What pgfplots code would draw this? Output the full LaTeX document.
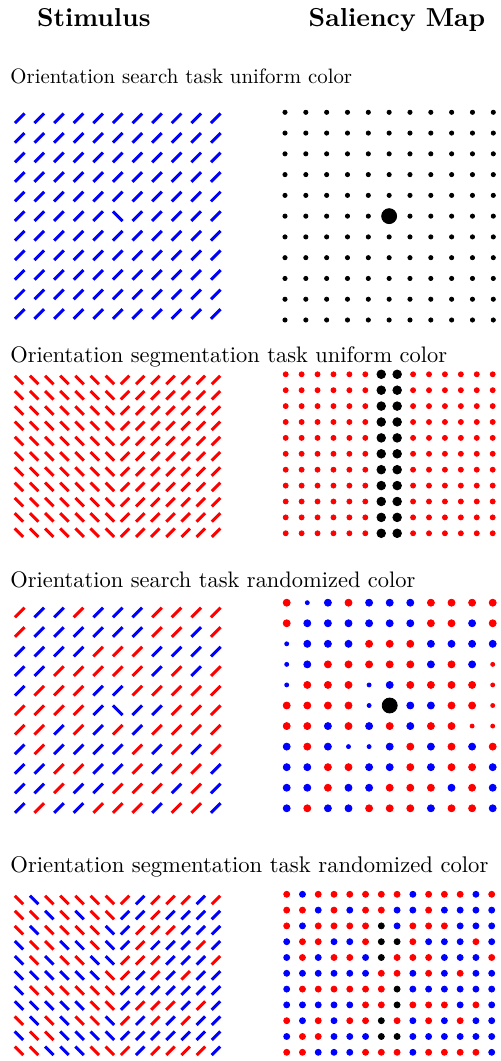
\documentclass[border=0pt]{standalone}
\usepackage{pgfplots}
\pgfplotsset{compat=1.18}
\usepackage{graphicx}
\definecolor{pr}{RGB}{255,0,0}
\definecolor{pb}{RGB}{0,0,255}
\pgfplotsset{
 panel/.style={scale only axis, hide axis, clip=false, enlargelimits=false, y dir=reverse, anchor=north west},
 sl/.style={only marks, mark=|, mark size=#1, mark options={line width=1.5pt, rotate=-45}},
 bs/.style={only marks, mark=|, mark size=#1, mark options={line width=1.5pt, rotate=45}},
 dot/.style={only marks, mark=*, mark size=#1, mark options={draw=none}},
}
\begin{document}
\begin{tikzpicture}[x=1pt,y=1pt]
\path[use as bounding box] (0pt,0pt) rectangle (250pt,530.5pt);
\node[anchor=base west, inner sep=0] at (18.35pt,517.15pt) {\resizebox{56.7pt}{!}{\bfseries Stimulus}};
\node[anchor=base west, inner sep=0] at (154.15pt,517.15pt) {\resizebox{88.3pt}{!}{\bfseries Saliency Map}};
\node[anchor=base west, inner sep=0] at (5pt,488.85pt) {\resizebox{170.85pt}{!}{Orientation search task uniform color}};
\node[anchor=base west, inner sep=0] at (5pt,349.35pt) {\resizebox{218.35pt}{!}{Orientation segmentation task uniform color}};
\node[anchor=base west, inner sep=0] at (5pt,236.65pt) {\resizebox{202.5pt}{!}{Orientation search task randomized color}};
\node[anchor=base west, inner sep=0] at (5pt,94.35pt) {\resizebox{239pt}{!}{Orientation segmentation task randomized color}};

% ---------- Panel 1: stimulus ----------
\begin{axis}[panel, at={(9.85pt,471.35pt)}, width=98.05pt, height=97.85pt, xmin=0, xmax=10, ymin=0, ymax=10]
\addplot[sl=3.4pt, pb] coordinates {
(0,0)(1,0)(2,0)(3,0)(4,0)(5,0)(6,0)(7,0)(8,0)(9,0)(10,0)
(0,1)(1,1)(2,1)(3,1)(4,1)(5,1)(6,1)(7,1)(8,1)(9,1)(10,1)
(0,2)(1,2)(2,2)(3,2)(4,2)(5,2)(6,2)(7,2)(8,2)(9,2)(10,2)
(0,3)(1,3)(2,3)(3,3)(4,3)(5,3)(6,3)(7,3)(8,3)(9,3)(10,3)
(0,4)(1,4)(2,4)(3,4)(4,4)(5,4)(6,4)(7,4)(8,4)(9,4)(10,4)
(0,5)(1,5)(2,5)(3,5)(4,5)(6,5)(7,5)(8,5)(9,5)(10,5)
(0,6)(1,6)(2,6)(3,6)(4,6)(5,6)(6,6)(7,6)(8,6)(9,6)(10,6)
(0,7)(1,7)(2,7)(3,7)(4,7)(5,7)(6,7)(7,7)(8,7)(9,7)(10,7)
(0,8)(1,8)(2,8)(3,8)(4,8)(5,8)(6,8)(7,8)(8,8)(9,8)(10,8)
(0,9)(1,9)(2,9)(3,9)(4,9)(5,9)(6,9)(7,9)(8,9)(9,9)(10,9)
(0,10)(1,10)(2,10)(3,10)(4,10)(5,10)(6,10)(7,10)(8,10)(9,10)(10,10)
};
\addplot[bs=3.4pt, pb] coordinates {(5,5)};
\end{axis}

% ---------- Panel 1: saliency ----------
\begin{axis}[panel, at={(142.5pt,474.35pt)}, width=104.15pt, height=103.85pt, xmin=0, xmax=10, ymin=0, ymax=10]
\addplot[dot=1.05pt, black] coordinates {
(0,0)(1,0)(2,0)(3,0)(4,0)(5,0)(6,0)(7,0)(8,0)(9,0)(10,0)
(0,1)(1,1)(2,1)(3,1)(4,1)(5,1)(6,1)(7,1)(8,1)(9,1)(10,1)
(0,2)(1,2)(2,2)(3,2)(4,2)(5,2)(6,2)(7,2)(8,2)(9,2)(10,2)
(0,3)(1,3)(2,3)(3,3)(4,3)(5,3)(6,3)(7,3)(8,3)(9,3)(10,3)
(0,4)(1,4)(2,4)(3,4)(4,4)(5,4)(6,4)(7,4)(8,4)(9,4)(10,4)
(0,5)(1,5)(2,5)(3,5)(4,5)(6,5)(7,5)(8,5)(9,5)(10,5)
(0,6)(1,6)(2,6)(3,6)(4,6)(5,6)(6,6)(7,6)(8,6)(9,6)(10,6)
(0,7)(1,7)(2,7)(3,7)(4,7)(5,7)(6,7)(7,7)(8,7)(9,7)(10,7)
(0,8)(1,8)(2,8)(3,8)(4,8)(5,8)(6,8)(7,8)(8,8)(9,8)(10,8)
(0,9)(1,9)(2,9)(3,9)(4,9)(5,9)(6,9)(7,9)(8,9)(9,9)(10,9)
(0,10)(1,10)(2,10)(3,10)(4,10)(5,10)(6,10)(7,10)(8,10)(9,10)(10,10)
};
\addplot[dot=3.75pt, black] coordinates {(5,5)};
\end{axis}

% ---------- Panel 2: stimulus ----------
\begin{axis}[panel, at={(9.5pt,340.5pt)}, width=98.5pt, height=76.35pt, xmin=0, xmax=13, ymin=0, ymax=10]
\addplot[bs=3pt, pr] coordinates {
(0,0)(1,0)(2,0)(3,0)(4,0)(5,0)(6,0)
(0,1)(1,1)(2,1)(3,1)(4,1)(5,1)(6,1)
(0,2)(1,2)(2,2)(3,2)(4,2)(5,2)(6,2)
(0,3)(1,3)(2,3)(3,3)(4,3)(5,3)(6,3)
(0,4)(1,4)(2,4)(3,4)(4,4)(5,4)(6,4)
(0,5)(1,5)(2,5)(3,5)(4,5)(5,5)(6,5)
(0,6)(1,6)(2,6)(3,6)(4,6)(5,6)(6,6)
(0,7)(1,7)(2,7)(3,7)(4,7)(5,7)(6,7)
(0,8)(1,8)(2,8)(3,8)(4,8)(5,8)(6,8)
(0,9)(1,9)(2,9)(3,9)(4,9)(5,9)(6,9)
(0,10)(1,10)(2,10)(3,10)(4,10)(5,10)(6,10)
};
\addplot[sl=3pt, pr] coordinates {
(7,0)(8,0)(9,0)(10,0)(11,0)(12,0)(13,0)
(7,1)(8,1)(9,1)(10,1)(11,1)(12,1)(13,1)
(7,2)(8,2)(9,2)(10,2)(11,2)(12,2)(13,2)
(7,3)(8,3)(9,3)(10,3)(11,3)(12,3)(13,3)
(7,4)(8,4)(9,4)(10,4)(11,4)(12,4)(13,4)
(7,5)(8,5)(9,5)(10,5)(11,5)(12,5)(13,5)
(7,6)(8,6)(9,6)(10,6)(11,6)(12,6)(13,6)
(7,7)(8,7)(9,7)(10,7)(11,7)(12,7)(13,7)
(7,8)(8,8)(9,8)(10,8)(11,8)(12,8)(13,8)
(7,9)(8,9)(9,9)(10,9)(11,9)(12,9)(13,9)
(7,10)(8,10)(9,10)(10,10)(11,10)(12,10)(13,10)
};
\end{axis}

% ---------- Panel 2: saliency ----------
\begin{axis}[panel, at={(142.85pt,343.35pt)}, width=103.5pt, height=79.5pt, xmin=0, xmax=13, ymin=0, ymax=10]
\addplot[dot=1.25pt, pr] coordinates {
(0,0)(1,0)(2,0)(3,0)(4,0)(5,0)(8,0)(9,0)(10,0)(11,0)(12,0)(13,0)
(0,1)(1,1)(2,1)(3,1)(4,1)(5,1)(8,1)(9,1)(10,1)(11,1)(12,1)(13,1)
(0,2)(1,2)(2,2)(3,2)(4,2)(5,2)(8,2)(9,2)(10,2)(11,2)(12,2)(13,2)
(0,3)(1,3)(2,3)(3,3)(4,3)(5,3)(8,3)(9,3)(10,3)(11,3)(12,3)(13,3)
(0,4)(1,4)(2,4)(3,4)(4,4)(5,4)(8,4)(9,4)(10,4)(11,4)(12,4)(13,4)
(0,5)(1,5)(2,5)(3,5)(4,5)(5,5)(8,5)(9,5)(10,5)(11,5)(12,5)(13,5)
(0,6)(1,6)(2,6)(3,6)(4,6)(5,6)(8,6)(9,6)(10,6)(11,6)(12,6)(13,6)
(0,7)(1,7)(2,7)(3,7)(4,7)(5,7)(8,7)(9,7)(10,7)(11,7)(12,7)(13,7)
(0,8)(1,8)(2,8)(3,8)(4,8)(5,8)(8,8)(9,8)(10,8)(11,8)(12,8)(13,8)
(0,9)(1,9)(2,9)(3,9)(4,9)(5,9)(8,9)(9,9)(10,9)(11,9)(12,9)(13,9)
(0,10)(1,10)(2,10)(3,10)(4,10)(5,10)(8,10)(9,10)(10,10)(11,10)(12,10)(13,10)
};
\addplot[dot=2.15pt, black] coordinates {
(6,0)(7,0)(6,1)(7,1)(6,2)(7,2)(6,3)(7,3)(6,4)(7,4)(6,5)(7,5)
(6,6)(7,6)(6,7)(7,7)(6,8)(7,8)(6,9)(7,9)(6,10)(7,10)
};
\end{axis}

% ---------- Panel 3: stimulus ----------
\begin{axis}[panel, at={(9.85pt,224.25pt)}, width=98.05pt, height=97.75pt, xmin=0, xmax=10, ymin=0, ymax=10]
\addplot[sl=3.4pt, pb] coordinates {
(1,0)(2,0)(4,0)(5,0)(6,0)
(1,1)(2,1)(3,1)(4,1)(5,1)(6,1)(9,1)
(0,2)(1,2)(2,2)(3,2)(7,2)(8,2)(9,2)(10,2)
(0,3)(1,3)(7,3)(9,3)
(0,4)(4,4)(5,4)
(4,5)(6,5)(7,5)
(2,6)(4,6)(6,6)
(0,7)(2,7)(3,7)(4,7)(5,7)(7,7)(9,7)
(0,8)(1,8)(4,8)(5,8)(7,8)(10,8)
(0,9)(1,9)(3,9)(4,9)(8,9)(10,9)
(0,10)(2,10)(3,10)(7,10)(10,10)
};
\addplot[sl=3.4pt, pr] coordinates {
(0,0)(3,0)(7,0)(8,0)(9,0)(10,0)
(0,1)(7,1)(8,1)(10,1)
(4,2)(5,2)(6,2)
(2,3)(3,3)(4,3)(5,3)(6,3)(8,3)(10,3)
(1,4)(2,4)(3,4)(6,4)(7,4)(8,4)(9,4)(10,4)
(0,5)(1,5)(2,5)(3,5)(8,5)(9,5)(10,5)
(0,6)(1,6)(3,6)(5,6)(7,6)(8,6)(9,6)(10,6)
(1,7)(6,7)(8,7)(10,7)
(2,8)(3,8)(6,8)(8,8)(9,8)
(2,9)(5,9)(6,9)(7,9)(9,9)
(1,10)(4,10)(5,10)(6,10)(8,10)(9,10)
};
\addplot[bs=3.4pt, pb] coordinates {(5,5)};
\end{axis}

% ---------- Panel 3: saliency ----------
\begin{axis}[panel, at={(143.35pt,229.15pt)}, width=103pt, height=102.8pt, xmin=0, xmax=10, ymin=0, ymax=10]
\addplot[dot=1.75pt, pb] coordinates {
(2,0)(4,0)(5,0)(6,0)
(1,1)(2,1)(3,1)(4,1)(5,1)(6,1)(9,1)
(1,2)(2,2)(3,2)(7,2)(8,2)(9,2)(10,2)
(1,3)(7,3)(9,3)
(5,4)
(6,5)(7,5)
(2,6)(4,6)(6,6)
(0,7)(2,7)(5,7)(7,7)(9,7)
(0,8)(1,8)(4,8)(5,8)(7,8)(10,8)
(0,9)(1,9)(3,9)(4,9)(8,9)(10,9)
(0,10)(2,10)(3,10)(7,10)(10,10)
};
\addplot[dot=1.75pt, pr] coordinates {
(0,0)(3,0)(7,0)(8,0)(9,0)(10,0)
(0,1)(7,1)(8,1)(10,1)
(4,2)(5,2)(6,2)
(2,3)(3,3)(4,3)(5,3)(6,3)(8,3)
(1,4)(2,4)(3,4)(6,4)(7,4)(8,4)(9,4)
(0,5)(1,5)(2,5)(3,5)(8,5)(9,5)
(0,6)(1,6)(3,6)(5,6)(7,6)(8,6)
(1,7)(6,7)(8,7)(10,7)
(2,8)(3,8)(6,8)(8,8)(9,8)
(2,9)(5,9)(6,9)(7,9)(9,9)
(1,10)(4,10)(5,10)(6,10)(8,10)(9,10)
};
\addplot[dot=1pt, pb] coordinates {(1,0)(0,2)(0,3)(0,4)(4,4)(4,5)(3,7)(4,7)};
\addplot[dot=1pt, pr] coordinates {(10,3)(10,4)(10,5)(9,6)(10,6)};
\addplot[dot=3.75pt, black] coordinates {(5,5)};
\end{axis}

% ---------- Panel 4: stimulus ----------
\begin{axis}[panel, at={(9.5pt,80.5pt)}, width=98.5pt, height=75.4pt, xmin=0, xmax=13, ymin=0, ymax=10]
\addplot[bs=3pt, pb] coordinates {
(1,0)
(2,1)(4,1)
(1,2)(6,2)
(0,3)(3,3)(4,3)(6,3)
(0,4)(2,4)(5,4)(6,4)
(0,5)(1,5)(2,5)(3,5)(4,5)(5,5)
(0,6)
(0,7)(1,7)(2,7)(3,7)(4,7)
(1,8)(3,8)(6,8)
(0,9)(3,9)(4,9)(5,9)(6,9)
(2,10)(3,10)(4,10)
};
\addplot[bs=3pt, pr] coordinates {
(0,0)(2,0)(3,0)(4,0)(5,0)(6,0)
(0,1)(1,1)(3,1)(5,1)(6,1)
(0,2)(2,2)(3,2)(4,2)(5,2)
(1,3)(2,3)(5,3)
(1,4)(3,4)(4,4)
(6,5)
(1,6)(2,6)(3,6)(4,6)(5,6)(6,6)
(5,7)(6,7)
(0,8)(2,8)(4,8)(5,8)
(1,9)(2,9)
(0,10)(1,10)(5,10)(6,10)
};
\addplot[sl=3pt, pb] coordinates {
(8,0)(12,0)
(7,1)(8,1)(10,1)(11,1)(12,1)(13,1)
(7,2)(11,2)(12,2)(13,2)
(7,3)(9,3)(10,3)(11,3)(13,3)
(10,4)(11,4)(12,4)
(8,5)(10,5)(12,5)(13,5)
(7,6)(8,6)(9,6)(10,6)(11,6)(12,6)(13,6)
(7,7)(11,7)(13,7)
(8,8)(10,8)(12,8)(13,8)
(7,9)(8,9)(9,9)(10,9)(11,9)(12,9)(13,9)
(8,10)(13,10)
};
\addplot[sl=3pt, pr] coordinates {
(7,0)(9,0)(10,0)(11,0)(13,0)
(9,1)
(8,2)(9,2)(10,2)
(8,3)(12,3)
(7,4)(8,4)(9,4)(13,4)
(7,5)(9,5)(11,5)
(8,7)(9,7)(10,7)(12,7)
(7,8)(9,8)(11,8)
(7,10)(9,10)(10,10)(11,10)(12,10)
};
\end{axis}

% ---------- Panel 4: saliency ----------
\begin{axis}[panel, at={(143.35pt,83.35pt)}, width=102.5pt, height=79pt, xmin=0, xmax=13, ymin=0, ymax=10]
\addplot[dot=1.5pt, pb] coordinates {
(1,0)(8,0)(12,0)
(2,1)(4,1)(7,1)(8,1)(10,1)(11,1)(12,1)(13,1)
(1,2)(7,2)(11,2)(12,2)(13,2)
(0,3)(3,3)(4,3)(9,3)(10,3)(11,3)(13,3)
(0,4)(2,4)(5,4)(10,4)(11,4)(12,4)
(0,5)(1,5)(2,5)(3,5)(4,5)(5,5)(8,5)(10,5)(12,5)(13,5)
(0,6)(8,6)(9,6)(10,6)(11,6)(12,6)(13,6)
(0,7)(1,7)(2,7)(3,7)(4,7)(11,7)(13,7)
(1,8)(3,8)(8,8)(10,8)(12,8)(13,8)
(0,9)(3,9)(4,9)(5,9)(8,9)(9,9)(10,9)(11,9)(12,9)(13,9)
(2,10)(3,10)(4,10)(8,10)(13,10)
};
\addplot[dot=1.5pt, pr] coordinates {
(0,0)(2,0)(3,0)(4,0)(5,0)(6,0)(7,0)(9,0)(10,0)(11,0)(13,0)
(0,1)(1,1)(3,1)(5,1)(6,1)(9,1)
(0,2)(2,2)(3,2)(4,2)(5,2)(8,2)(9,2)(10,2)
(1,3)(2,3)(5,3)(8,3)(12,3)
(1,4)(3,4)(4,4)(7,4)(8,4)(9,4)(13,4)
(6,5)(7,5)(9,5)(11,5)
(1,6)(2,6)(3,6)(4,6)(5,6)(6,6)
(5,7)(6,7)(8,7)(9,7)(10,7)(12,7)
(0,8)(2,8)(4,8)(5,8)(7,8)(9,8)(11,8)
(1,9)(2,9)
(0,10)(1,10)(5,10)(6,10)(7,10)(9,10)(10,10)(11,10)(12,10)
};
\addplot[dot=1.5pt, black] coordinates {(6,2)(6,3)(7,3)(6,4)(7,6)(7,7)(6,8)(6,9)(7,9)};
\end{axis}
\end{tikzpicture}
\end{document}
